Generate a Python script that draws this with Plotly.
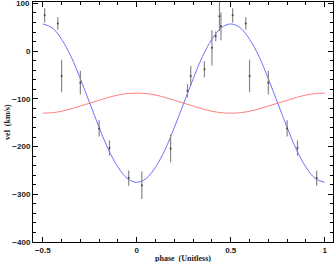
import plotly.graph_objects as go

# observed radial velocities (phase, velocity km/s, error km/s)
obs_phase = [-0.49, -0.42, -0.40, -0.30, -0.20, -0.145, -0.043,
             0.027, 0.18, 0.27, 0.287, 0.36, 0.40, 0.42, 0.44, 0.448,
             0.51, 0.58, 0.60, 0.70, 0.80, 0.855, 0.957]
obs_vel = [75, 58, -52, -66, -162, -203, -266,
           -281, -204, -83, -52, -38, 7, 31, 73, 52,
           75, 58, -52, -66, -162, -203, -266]
obs_err = [15, 13, 34, 25, 17, 16, 16,
           29, 29, 14, 21, 17, 37, 10, 31, 29,
           15, 13, 34, 25, 17, 16, 16]

# model curves
model_phase = [-0.5, -0.45, -0.4, -0.35, -0.3, -0.25, -0.2, -0.15, -0.1, -0.05,
               0.0, 0.05, 0.1, 0.15, 0.2, 0.25, 0.3, 0.35, 0.4, 0.45,
               0.5, 0.55, 0.6, 0.65, 0.7, 0.75, 0.8, 0.85, 0.9, 0.95, 1.0]
blue_vel = [57, 49, 25, -11, -58, -109, -160, -207, -243, -267,
            -275, -267, -243, -207, -160, -109, -58, -11, 25, 49,
            57, 49, 25, -11, -58, -109, -160, -207, -243, -267, -275]
red_vel = [-130, -129, -126, -121, -115, -109, -103, -97, -92, -89,
           -88, -89, -92, -97, -103, -109, -115, -121, -126, -129,
           -130, -129, -126, -121, -115, -109, -103, -97, -92, -89, -88]

x_ticks = [-0.5, 0, 0.5, 1]
x_ticklabels = ["<b>\u22120.5</b>", "<b>0</b>", "<b>0.5</b>", "<b>1</b>"]
y_ticks = [-400, -300, -200, -100, 0, 100]
y_ticklabels = ["<b>\u2212400</b>", "<b>\u2212300</b>", "<b>\u2212200</b>",
                "<b>\u2212100</b>", "<b>0</b>", ""]
y_top_value = 100
y_top_label = "<b>100</b>"
x_title = "<b>phase  (Unitless)</b>"
y_title = "<b>vel  (km/s)</b>"

fig = go.Figure()
fig.add_trace(go.Scatter(x=model_phase, y=red_vel, mode="lines", line_shape="spline",
                         line=dict(color="#ff8080", width=1), hoverinfo="skip"))
fig.add_trace(go.Scatter(x=model_phase, y=blue_vel, mode="lines", line_shape="spline",
                         line=dict(color="#7070ff", width=1), hoverinfo="skip"))
fig.add_trace(go.Scatter(x=obs_phase, y=obs_vel, mode="markers",
                         marker=dict(color="#444444", size=2),
                         error_y=dict(type="data", array=obs_err, color="#888888",
                                      thickness=1.2, width=0)))

axis_common = dict(showgrid=False, zeroline=False, showline=True, linecolor="black",
                   linewidth=1, mirror="ticks", ticks="inside", tickcolor="black",
                   ticklen=5, tickwidth=1, automargin=False, ticklabeloverflow="allow",
                   tickfont=dict(family="Liberation Sans", size=8, color="#222222"))

fig.update_layout(
    width=335, height=262,
    margin=dict(l=33, r=2, t=2, b=20),
    paper_bgcolor="white", plot_bgcolor="white",
    showlegend=False,
    xaxis=dict(range=[-0.552, 1.044], tickvals=x_ticks, ticktext=x_ticklabels,
               minor=dict(dtick=0.1, tick0=0, ticks="inside", ticklen=3, tickcolor="black"),
               **axis_common),
    yaxis=dict(range=[-400, 103], tickvals=y_ticks, ticktext=y_ticklabels,
               minor=dict(dtick=20, tick0=0, ticks="inside", ticklen=3, tickcolor="black"),
               **axis_common),
    annotations=[
        dict(text=y_top_label, xref="paper", yref="y", x=-0.007, y=y_top_value,
             xanchor="right", yanchor="middle", showarrow=False, borderpad=0,
             font=dict(family="Liberation Sans", size=8, color="#222222")),
        dict(text=x_title, xref="paper", yref="paper", x=0.5, y=-0.07,
             xanchor="center", yanchor="middle", showarrow=False,
             font=dict(family="Liberation Serif", size=8, color="#222222")),
        dict(text=y_title, xref="paper", yref="paper", x=-0.087, y=0.5,
             xanchor="center", yanchor="middle", showarrow=False, textangle=-90,
             font=dict(family="Liberation Serif", size=8, color="#222222")),
    ],
)

fig.write_html("out.html", config={"displayModeBar": False},
               post_script="document.body.style.margin='0';")
